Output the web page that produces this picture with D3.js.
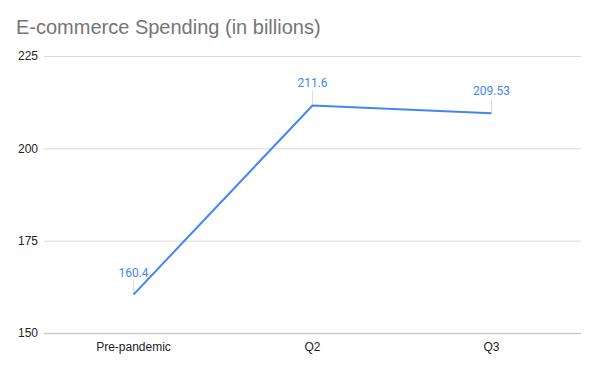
<!DOCTYPE html>
<html><head><meta charset="utf-8">
<script src="https://cdn.jsdelivr.net/npm/d3@7"></script>
<style>body{margin:0;background:#fff;font-family:Roboto,Arial,sans-serif}</style>
</head><body><svg id="c" width="600" height="370"></svg>
<script>
const categories = ["Pre-pandemic", "Q2", "Q3"];
const values = [160.4, 211.6, 209.53];
const valueLabels = ["160.4", "211.6", "209.53"];
const yTicks = [150, 175, 200, 225];
const title = "E-commerce Spending (in billions)";

(function () {
const svg = d3.select("#c");
const mLeft = 44, mRight = 581, mTop = 56, mBottom = 333;
const x = d3.scaleBand().domain(categories).range([mLeft, mRight]);
const y = d3.scaleLinear().domain([150, 225]).range([mBottom, mTop]);

svg.append("text").attr("x", 16).attr("y", 34).attr("font-family", "Arial, 'Liberation Sans', sans-serif")
  .attr("font-size", 20).attr("fill", "#757575").text(title);

const ya = svg.append("g").attr("transform", `translate(${mLeft},0)`)
  .call(d3.axisLeft(y).tickValues(yTicks).tickSize(-(mRight - mLeft)).tickPadding(6).tickFormat(d3.format("d")));
ya.select(".domain").remove();
ya.selectAll("line").attr("stroke", "#d9d9d9").attr("stroke-width", 1);
ya.selectAll(".tick line").filter(d => d === 150).attr("stroke", "#cccccc").attr("stroke-width", 1.5);
ya.selectAll("text").attr("font-family", "Arial, 'Liberation Sans', sans-serif").attr("font-size", 12).attr("fill", "#222");

const xa = svg.append("g").attr("transform", `translate(0,${mBottom})`)
  .call(d3.axisBottom(x).tickSize(0).tickPadding(9));
xa.select(".domain").remove();
xa.selectAll("text").attr("font-family", "Arial, 'Liberation Sans', sans-serif").attr("font-size", 12).attr("fill", "#222");

const cx = d => x(d) + x.bandwidth() / 2;
const pts = categories.map((c, i) => [cx(c), y(values[i])]);

svg.selectAll(".lead").data(pts).enter().append("line")
  .attr("x1", d => d[0]).attr("x2", d => d[0])
  .attr("y1", d => d[1] - 1).attr("y2", d => d[1] - 15)
  .attr("stroke", "#dddddd").attr("stroke-width", 1);

svg.append("path").datum(pts).attr("d", d3.line())
  .attr("fill", "none").attr("stroke", "#4285f4").attr("stroke-width", 2);

svg.selectAll(".lbl").data(pts).enter().append("text")
  .attr("x", d => d[0]).attr("y", d => d[1] - 18)
  .attr("text-anchor", "middle").attr("font-family", "Roboto, Arial, sans-serif")
  .attr("font-size", 12).attr("fill", "#4285f4")
  .text((d, i) => valueLabels[i]);
})();
</script></body></html>
